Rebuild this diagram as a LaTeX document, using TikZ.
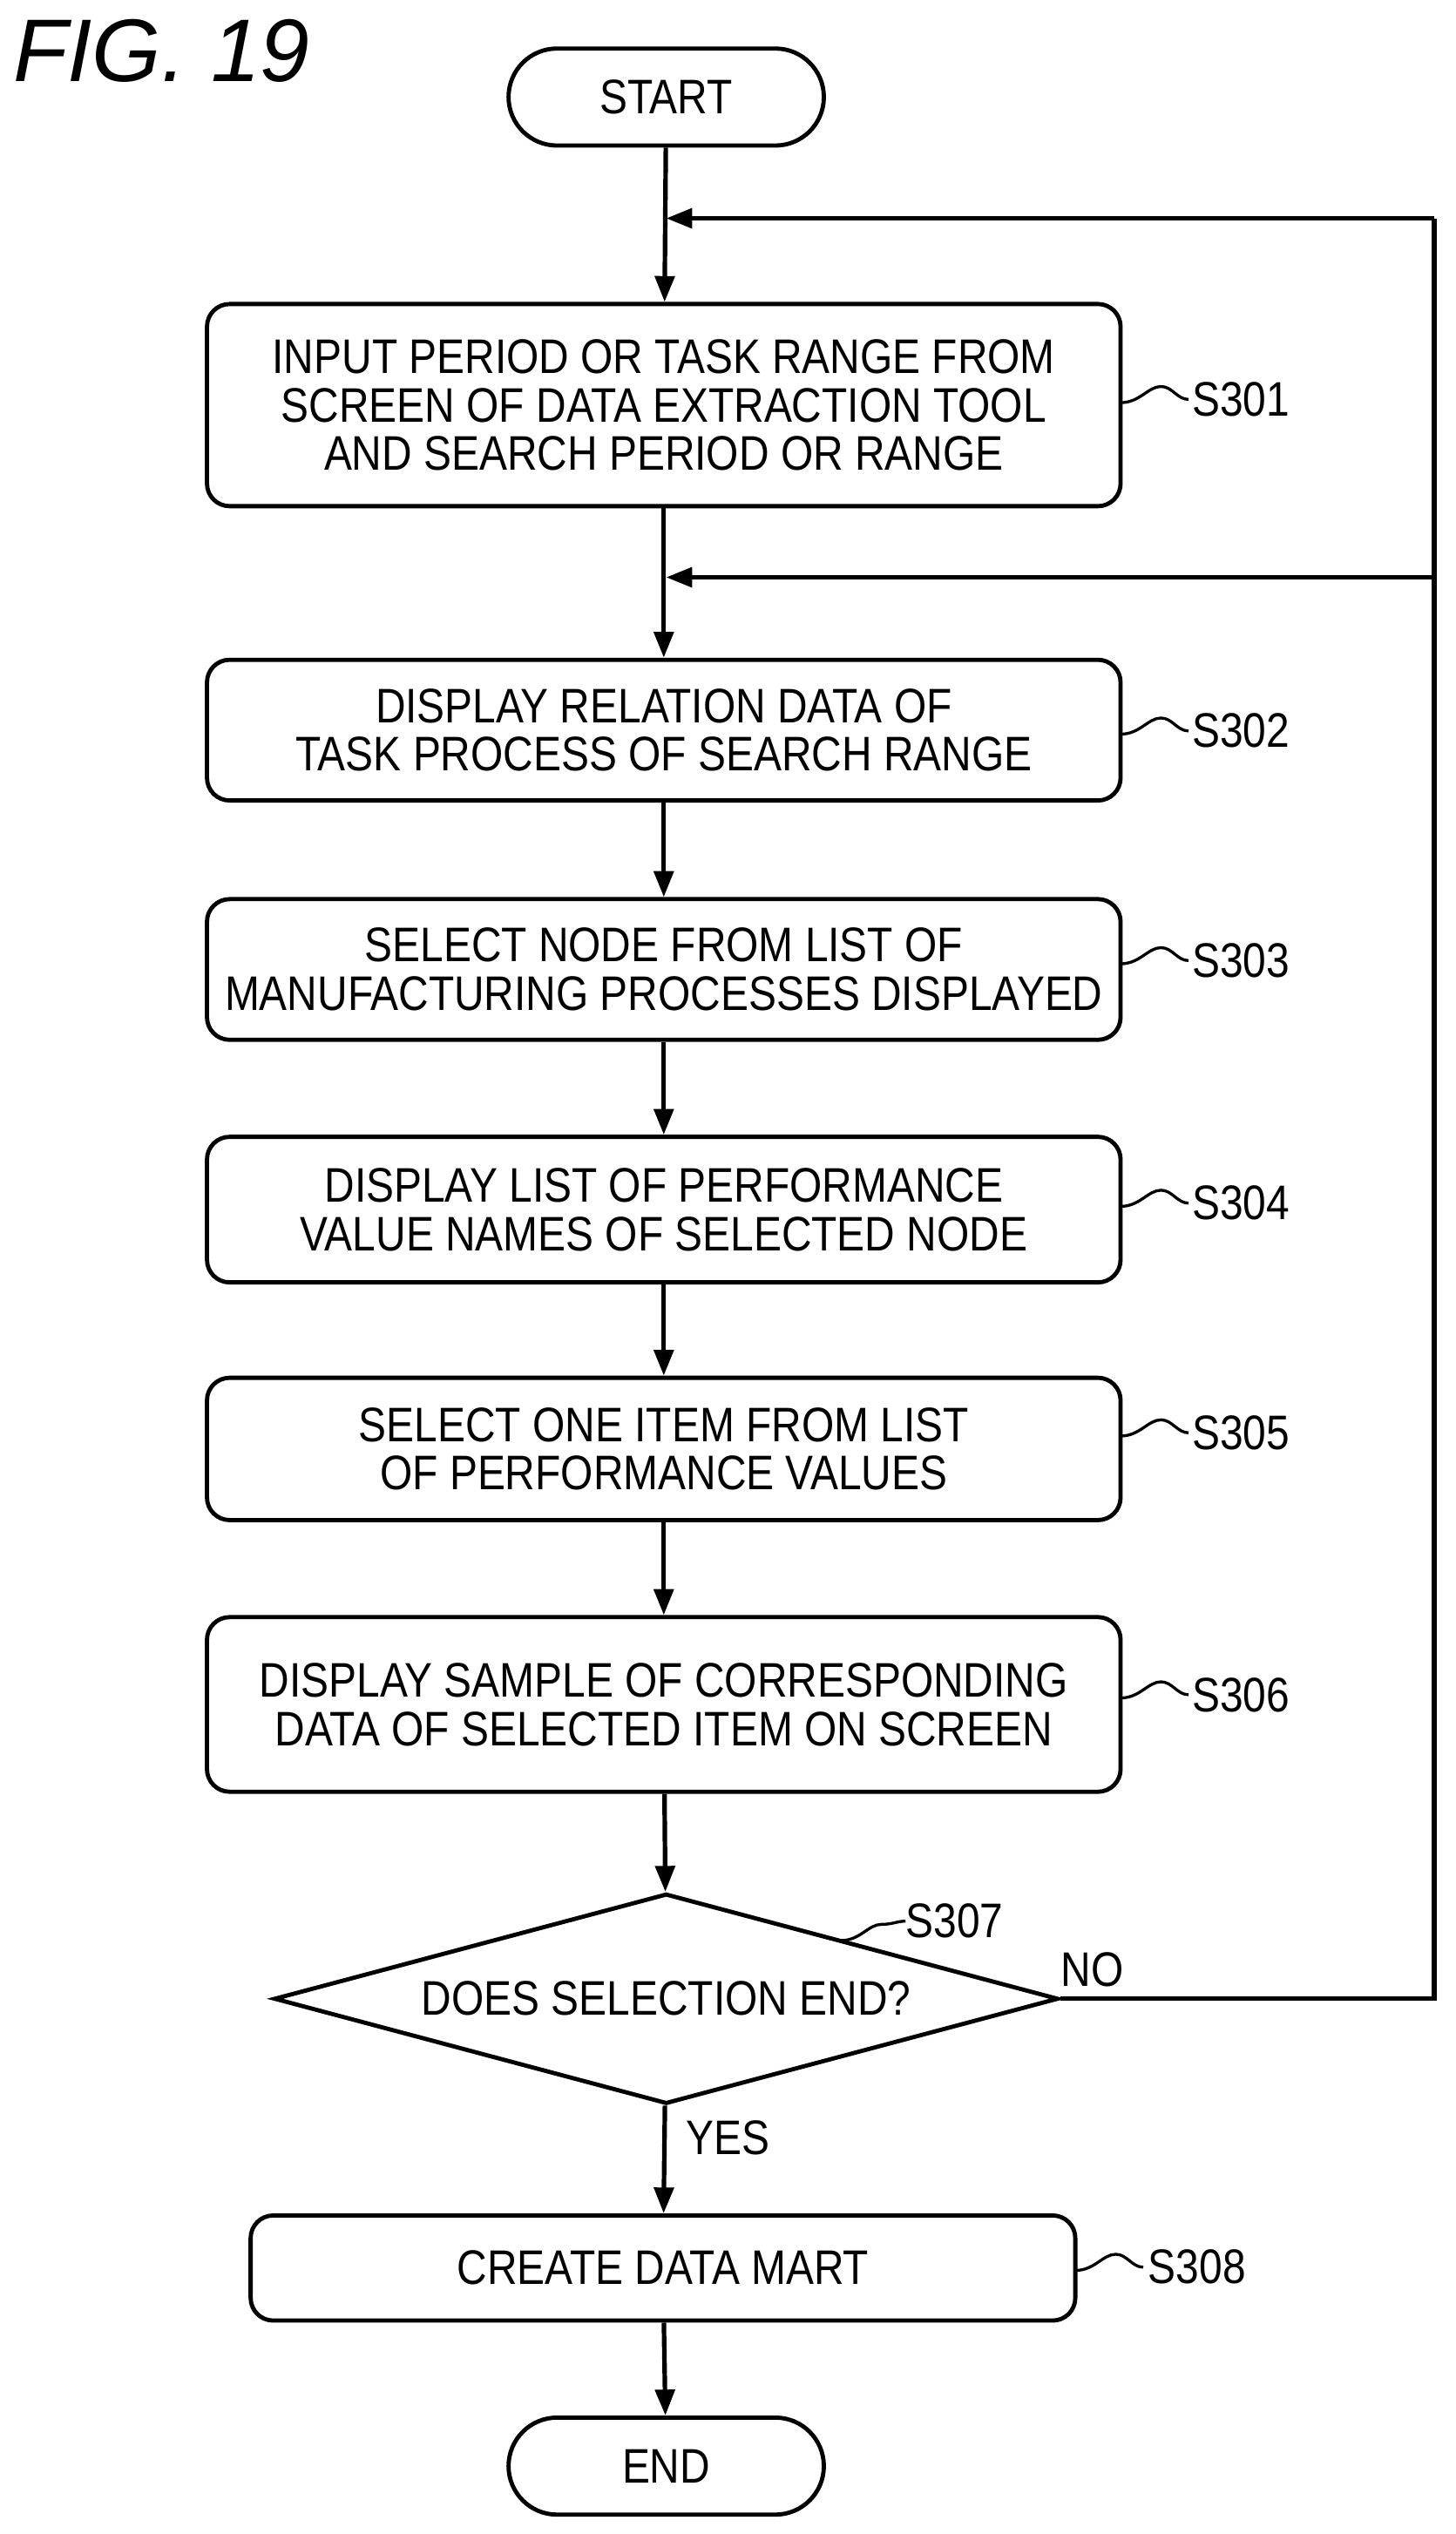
\documentclass[tikz,border=0pt]{standalone}
\usepackage{fontspec}
\setmainfont{Liberation Sans}[FakeStretch=0.86]
\newfontfamily\figfont{Liberation Sans}
\usetikzlibrary{shapes.geometric,arrows.meta}
\begin{document}
\begin{tikzpicture}[x=1pt,y=-1pt,
  every node/.style={font=\fontsize{30}{30}\selectfont},
  box/.style={draw,line width=2.6pt,rounded corners=14pt,align=center,inner sep=0pt},
  pill/.style={draw,line width=2.6pt,rounded corners=30pt,minimum width=195pt,minimum height=60pt},
  ln/.style={line width=2.8pt},
  ar/.style={ln,-{Triangle[length=16pt,width=12pt]}},
  sq/.style={line width=1.8pt},
  lab/.style={anchor=west,inner sep=0pt}]
\useasboundingbox (0,0) rectangle (900,1567);
\node[anchor=north west,inner sep=0pt,font=\figfont\fontsize{55}{56}\selectfont\itshape] (fig) at (8,12) {FIG. 19};
\node[pill] (start) at (412,60) {START};
\node[box,minimum width=565pt,minimum height=125pt] (s301) at (410.5,250.5) {INPUT PERIOD OR TASK RANGE FROM\\SCREEN OF DATA EXTRACTION TOOL\\AND SEARCH PERIOD OR RANGE};
\node[box,minimum width=565pt,minimum height=87pt] (s302) at (410.5,451.5) {DISPLAY RELATION DATA OF\\TASK PROCESS OF SEARCH RANGE};
\node[box,minimum width=565pt,minimum height=87pt] (s303) at (410.5,599.5) {SELECT NODE FROM LIST OF\\MANUFACTURING PROCESSES DISPLAYED};
\node[box,minimum width=565pt,minimum height=90pt] (s304) at (410.5,748) {DISPLAY LIST OF PERFORMANCE\\VALUE NAMES OF SELECTED NODE};
\node[box,minimum width=565pt,minimum height=88pt] (s305) at (410.5,896) {SELECT ONE ITEM FROM LIST\\OF PERFORMANCE VALUES};
\node[box,minimum width=565pt,minimum height=108pt] (s306) at (410.5,1054) {DISPLAY SAMPLE OF CORRESPONDING\\DATA OF SELECTED ITEM ON SCREEN};
\node[draw,line width=2.6pt,diamond,aspect=3.73,minimum width=485pt,minimum height=130pt,inner sep=0pt] (s307) at (412,1236) {};
\node at (412,1236) {DOES SELECTION END?};
\node[box,minimum width=510pt,minimum height=65pt] (s308) at (410,1402.5) {CREATE DATA MART};
\node[pill] (end) at (412,1525) {END};
\coordinate (j1) at (412,135);
\coordinate (j2) at (412,357);
\coordinate (r1) at (887,135);
\coordinate (r2) at (887,357);
\coordinate (r3) at (887,1236);
\draw[ar] (start) -- (s301);
\draw[ar] (s301) -- (s302);
\draw[ar] (s302) -- (s303);
\draw[ar] (s303) -- (s304);
\draw[ar] (s304) -- (s305);
\draw[ar] (s305) -- (s306);
\draw[ar] (s306) -- (s307);
\draw[ar] (s307) -- (s308);
\draw[ar] (s308) -- (end);
\draw[ln] (s307.east) -- (r3) -- (r1);
\draw[ar] (r1) -- (j1);
\draw[ar] (r2) -- (j2);
\node[lab] (no) at (656,1218) {NO};
\node[lab] (yes) at (424,1322) {YES};
\foreach \y in {247,452,594,744,886,1048}{
  \draw[sq] (693,\y+2) .. controls (705,\y+2) and (710,\y-8) .. (718,\y-8) .. controls (725,\y-8) and (728,\y) .. (735,\y);
}
\node[lab] (l301) at (737,247) {S301};
\node[lab] (l302) at (737,452) {S302};
\node[lab] (l303) at (737,594) {S303};
\node[lab] (l304) at (737,744) {S304};
\node[lab] (l305) at (737,886) {S305};
\node[lab] (l306) at (737,1048) {S306};
\draw[sq] (665,1404) .. controls (677,1404) and (682,1394) .. (690,1394) .. controls (697,1394) and (700,1402) .. (707,1402);
\node[lab] (l308) at (710,1402) {S308};
\draw[sq] (520,1200) .. controls (532,1200) and (537,1190) .. (545,1190) .. controls (552,1190) and (555,1188) .. (560,1188);
\node[lab] (l307) at (560,1188) {S307};
\end{tikzpicture}
\end{document}
